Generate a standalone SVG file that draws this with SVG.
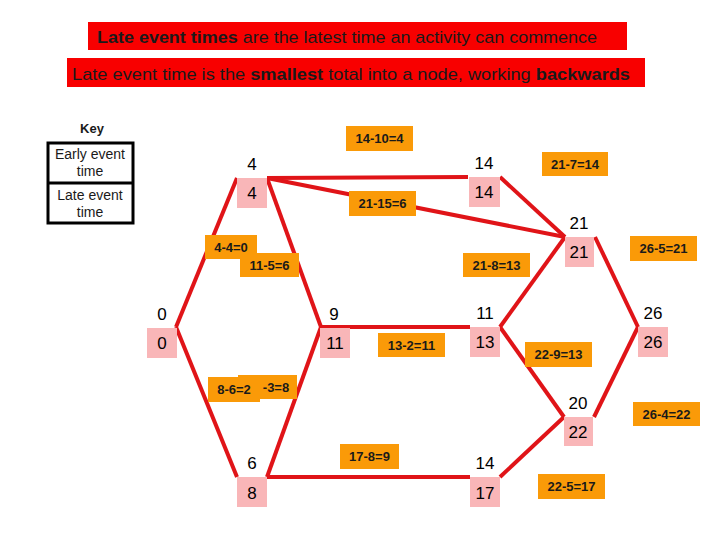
<svg xmlns="http://www.w3.org/2000/svg" width="720" height="540" viewBox="0 0 720 540">
<style>
text{font-family:"Liberation Sans",Arial,sans-serif}
.banner{fill:#f80000}
.bt{font-size:17px;fill:#1a1a1a}
.b{font-weight:bold}
.key{font-size:14px;fill:#1a1a1a;text-anchor:middle}
.edge{stroke:#e01418;stroke-width:4;fill:none;stroke-linecap:butt}
.box{fill:#f9b6b8}
.ev{font-size:17px;fill:#000;text-anchor:middle}
.lb{fill:#fa9a08}
.lt{font-size:13px;font-weight:bold;fill:#1a1a1a;text-anchor:middle}
</style>
<rect width="720" height="540" fill="#fff"/>
<g id="banner1">
<rect class="banner" x="88" y="22" width="539" height="28"/>
<text class="bt" x="97" y="43" textLength="500" lengthAdjust="spacingAndGlyphs"><tspan class="b">Late event times</tspan> are the latest time an activity can commence</text>
</g>
<g id="banner2">
<rect class="banner" x="67" y="58" width="578" height="29"/>
<text class="bt" x="72" y="80" textLength="558" lengthAdjust="spacingAndGlyphs">Late event time is the <tspan class="b">smallest</tspan> total into a node, working <tspan class="b">backwards</tspan></text>
</g>
<g id="key">
<text x="92" y="133" font-size="13" font-weight="bold" text-anchor="middle" fill="#1a1a1a">Key</text>
<rect x="48" y="143" width="85" height="80" fill="none" stroke="#000" stroke-width="3"/>
<line x1="48" y1="183" x2="133" y2="183" stroke="#000" stroke-width="3"/>
<text class="key" x="90" y="159">Early event</text>
<text class="key" x="90" y="176">time</text>
<text class="key" x="90" y="200">Late event</text>
<text class="key" x="90" y="217">time</text>
</g>
<g id="connectors">
<line class="edge" x1="176" y1="327" x2="237" y2="178"/>
<line class="edge" x1="176" y1="327" x2="237" y2="477"/>
<line class="edge" x1="267" y1="178" x2="468" y2="177"/>
<line class="edge" x1="267" y1="178" x2="565" y2="237"/>
<line class="edge" x1="267" y1="178" x2="321" y2="327"/>
<line class="edge" x1="500" y1="177" x2="565" y2="237"/>
<line class="edge" x1="595" y1="237" x2="638" y2="327"/>
<line class="edge" x1="321" y1="327" x2="470" y2="327"/>
<line class="edge" x1="321" y1="327" x2="267" y2="477"/>
<line class="edge" x1="500" y1="327" x2="565" y2="237"/>
<line class="edge" x1="500" y1="327" x2="564" y2="417"/>
<line class="edge" x1="594" y1="417" x2="638" y2="327"/>
<line class="edge" x1="267" y1="477" x2="470" y2="477"/>
<line class="edge" x1="500" y1="477" x2="564" y2="417"/>
</g>
<g id="node0"><text class="ev" x="162" y="320">0</text><rect class="box" x="147" y="328" width="30" height="30"/><text class="ev" x="162" y="349">0</text></g>
<g id="node4"><text class="ev" x="252" y="170">4</text><rect class="box" x="237" y="178" width="30" height="30"/><text class="ev" x="252" y="199">4</text></g>
<g id="node14a"><text class="ev" x="484" y="169">14</text><rect class="box" x="469" y="177" width="31" height="30"/><text class="ev" x="484" y="198">14</text></g>
<g id="node21"><text class="ev" x="579" y="229">21</text><rect class="box" x="565" y="237" width="29" height="30"/><text class="ev" x="579" y="258">21</text></g>
<g id="node9"><text class="ev" x="334" y="320">9</text><rect class="box" x="320" y="328" width="30" height="30"/><text class="ev" x="335" y="349">11</text></g>
<g id="node11"><text class="ev" x="485" y="319">11</text><rect class="box" x="470" y="327" width="30" height="30"/><text class="ev" x="485" y="348">13</text></g>
<g id="node26"><text class="ev" x="653" y="319">26</text><rect class="box" x="638" y="327" width="30" height="30"/><text class="ev" x="653" y="348">26</text></g>
<g id="node20"><text class="ev" x="578" y="409">20</text><rect class="box" x="564" y="417" width="29" height="29"/><text class="ev" x="578" y="438">22</text></g>
<g id="node6"><text class="ev" x="252" y="469">6</text><rect class="box" x="237" y="477" width="30" height="30"/><text class="ev" x="252" y="499">8</text></g>
<g id="node14b"><text class="ev" x="485" y="469">14</text><rect class="box" x="470" y="477" width="30" height="30"/><text class="ev" x="485" y="499">17</text></g>
<g id="labels">
<rect class="lb" x="346" y="126" width="67" height="25"/><text class="lt" x="379.5" y="143">14-10=4</text>
<rect class="lb" x="542" y="152" width="66" height="24"/><text class="lt" x="575" y="169">21-7=14</text>
<rect class="lb" x="349" y="191" width="67" height="25"/><text class="lt" x="382.5" y="208">21-15=6</text>
<rect class="lb" x="630" y="236" width="67" height="25"/><text class="lt" x="663.5" y="253">26-5=21</text>
<rect class="lb" x="463" y="253" width="67" height="24"/><text class="lt" x="496.5" y="270">21-8=13</text>
<rect class="lb" x="205" y="235" width="52" height="24"/><text class="lt" x="231" y="252">4-4=0</text>
<rect class="lb" x="240" y="253" width="59" height="24"/><text class="lt" x="269.5" y="270">11-5=6</text>
<rect class="lb" x="378" y="333" width="67" height="24"/><text class="lt" x="411.5" y="350">13-2=11</text>
<rect class="lb" x="238" y="375" width="59" height="24"/><text class="lt" x="276" y="392">-3=8</text>
<rect class="lb" x="208" y="377" width="52" height="25"/><text class="lt" x="234" y="394">8-6=2</text>
<rect class="lb" x="525" y="342" width="67" height="25"/><text class="lt" x="558.5" y="359">22-9=13</text>
<rect class="lb" x="633" y="402" width="67" height="24"/><text class="lt" x="666.5" y="419">26-4=22</text>
<rect class="lb" x="340" y="444" width="59" height="25"/><text class="lt" x="369.5" y="461">17-8=9</text>
<rect class="lb" x="538" y="474" width="67" height="25"/><text class="lt" x="571.5" y="491">22-5=17</text>
</g>
</svg>
